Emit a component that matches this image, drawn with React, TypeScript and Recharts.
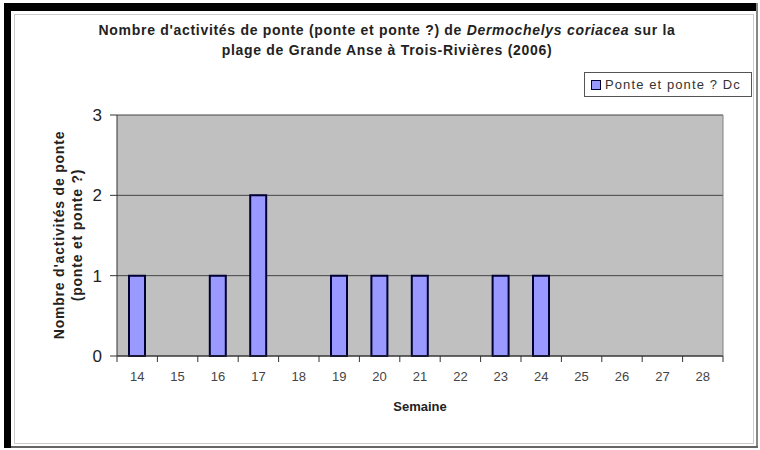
import React from 'react';
import { BarChart, Bar, XAxis, YAxis, CartesianGrid } from 'recharts';

const weeks = ['14', '15', '16', '17', '18', '19', '20', '21', '22', '23', '24', '25', '26', '27', '28'];
const ponteValues = [1, 0, 1, 2, 0, 1, 1, 1, 0, 1, 1, 0, 0, 0, 0];
const yTicks = [0, 1, 2, 3];
const seriesName = 'Ponte et ponte ? Dc';

const data = weeks.map((w, i) => ({ week: w, ponte: ponteValues[i] }));

const FONT = 'Arial, "Liberation Sans", Helvetica, sans-serif';

const WeekTick = (props: any) => {
  const { x, y, payload, index, visibleTicksCount } = props;
  const half = payload && typeof payload.offset === 'number' && payload.offset > 0 ? payload.offset : 20.2;
  const axisY = y - 10 - 6;
  const isLast = index === (visibleTicksCount ?? weeks.length) - 1;
  return (
    <g>
      <line x1={x - half} x2={x - half} y1={axisY} y2={axisY + 6} stroke="#333" />
      {isLast && <line x1={x + half} x2={x + half} y1={axisY} y2={axisY + 6} stroke="#333" />}
      <text x={x} y={y} dy="0.71em" textAnchor="middle" fill="#444" fontSize={13} fontFamily={FONT}>
        {payload.value}
      </text>
    </g>
  );
};

export default function App() {
  return (
    <div style={{ position: 'absolute', left: 0, top: 0, width: 760, height: 450, background: '#fff', overflow: 'hidden' }}>
      {/* frame */}
      <div style={{ position: 'absolute', left: 4, top: 3, width: 754, height: 8, background: '#000' }} />
      <div style={{ position: 'absolute', left: 4, top: 3, width: 7, height: 445, background: '#000' }} />
      <div style={{ position: 'absolute', left: 756, top: 3, width: 2, height: 445, background: '#888' }} />
      <div style={{ position: 'absolute', left: 11, top: 446, width: 747, height: 2, background: '#666' }} />
      <div style={{ position: 'absolute', left: 14, top: 14, width: 740, height: 430, border: '1px solid #ccc', boxSizing: 'border-box' }} />

      <div
        style={{
          position: 'absolute',
          left: 40,
          top: 20,
          width: 694,
          textAlign: 'center',
          fontFamily: FONT,
          fontWeight: 'bold',
          fontSize: 14,
          letterSpacing: 0.7,
          lineHeight: '20px',
          color: '#222',
        }}
      >
        Nombre d'activités de ponte (ponte et ponte ?) de <i>Dermochelys coriacea</i> sur la
        <br />
        plage de Grande Anse à Trois-Rivières (2006)
      </div>

      <div style={{ position: 'absolute', left: 0, top: 0 }}>
        <BarChart width={760} height={450} data={data} margin={{ top: 115, right: 36, bottom: 64, left: 77 }}>
          <CartesianGrid vertical={false} stroke="#444" fill="#C0C0C0" />
          <XAxis
            dataKey="week"
            tickLine={false}
            axisLine={{ stroke: '#333' }}
            tick={<WeekTick />}
            tickSize={6}
            tickMargin={10}
            height={30}
            interval={0}
          />
          <YAxis
            domain={[0, 3]}
            ticks={yTicks}
            width={40}
            tickSize={7}
            tickMargin={8}
            axisLine={{ stroke: '#333' }}
            tickLine={{ stroke: '#333' }}
            tick={{ fill: '#222', fontSize: 17, fontFamily: FONT }}
          />
          <YAxis
            yAxisId="right"
            orientation="right"
            domain={[0, 3]}
            width={1}
            tick={false}
            tickLine={false}
            axisLine={{ stroke: '#808080' }}
          />
          <Bar
            dataKey="ponte"
            name={seriesName}
            fill="#9999FF"
            stroke="#000033"
            strokeWidth={2}
            barSize={16}
            isAnimationActive={false}
          />
        </BarChart>
      </div>

      <div
        style={{
          position: 'absolute',
          left: 584,
          top: 72,
          width: 168,
          height: 25,
          boxSizing: 'border-box',
          border: '1px solid #555',
          background: '#fff',
          display: 'flex',
          alignItems: 'center',
          paddingLeft: 6,
          fontFamily: FONT,
          fontSize: 13,
          letterSpacing: 1.1,
          color: '#333',
          whiteSpace: 'nowrap',
        }}
      >
        <span
          style={{
            display: 'inline-block',
            width: 8,
            height: 8,
            background: '#9999FF',
            border: '1px solid #000033',
            marginRight: 4,
          }}
        />
        {seriesName}
      </div>

      <div
        style={{
          position: 'absolute',
          left: 70 - 130,
          top: 235 - 20,
          width: 260,
          height: 40,
          transform: 'rotate(-90deg)',
          textAlign: 'center',
          fontFamily: FONT,
          fontWeight: 'bold',
          fontSize: 14,
          letterSpacing: 0.8,
          lineHeight: '18px',
          color: '#222',
        }}
      >
        Nombre d'activités de ponte
        <br />
        (ponte et ponte ?)
      </div>

      <div
        style={{
          position: 'absolute',
          left: 320,
          top: 399,
          width: 200,
          textAlign: 'center',
          fontFamily: FONT,
          fontWeight: 'bold',
          fontSize: 13,
          color: '#222',
        }}
      >
        Semaine
      </div>
    </div>
  );
}
